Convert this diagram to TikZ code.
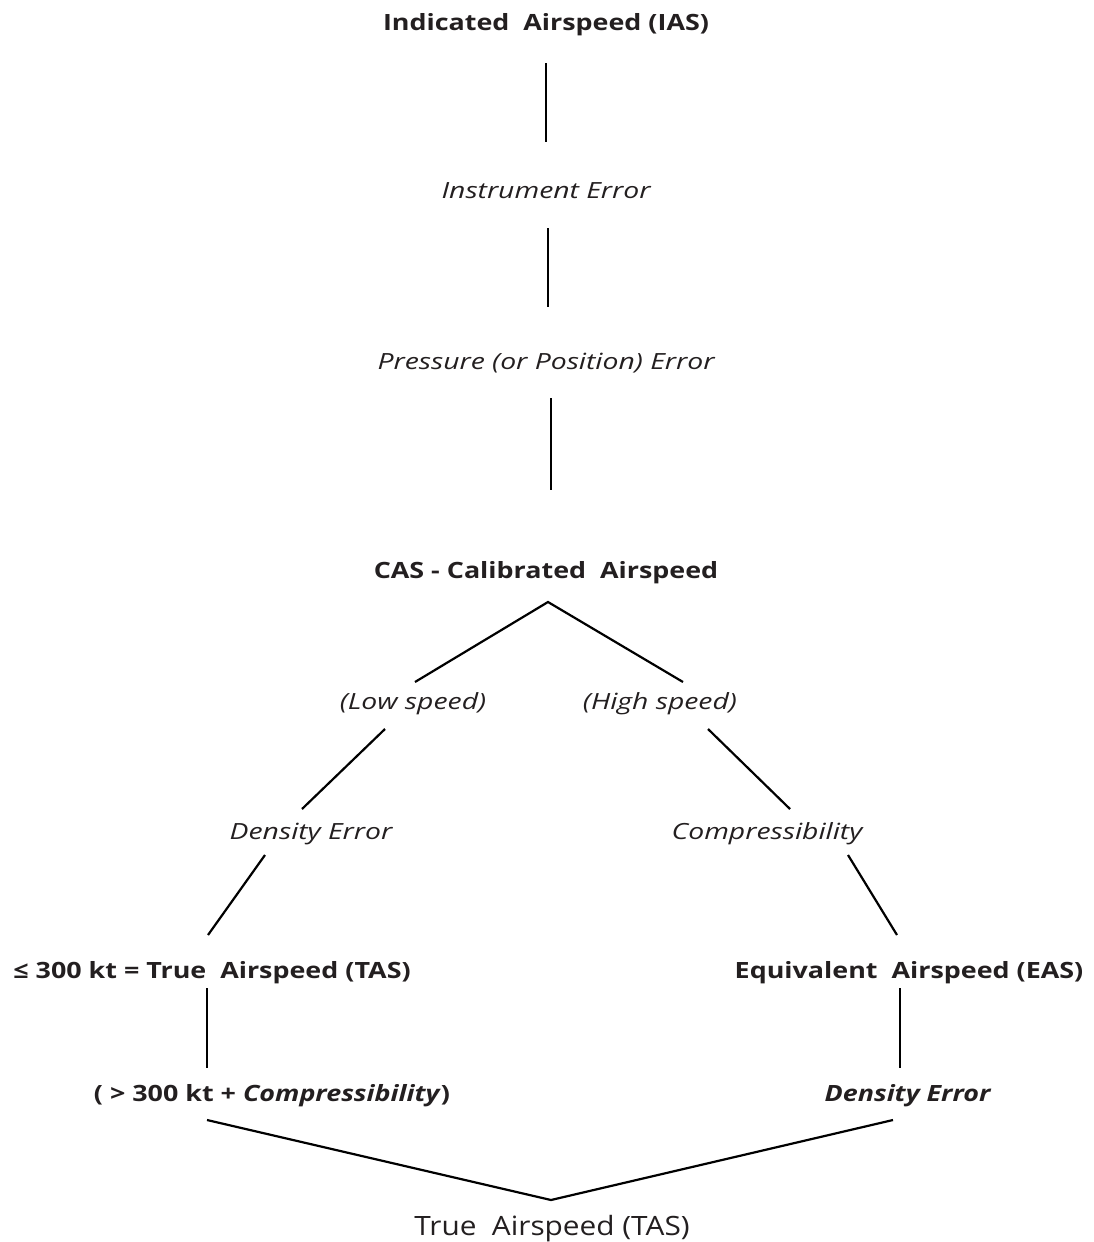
\documentclass[tikz,border=0pt]{standalone}
\usepackage{fontspec}
\setmainfont{Open Sans}
\newfontfamily\fB{Open Sans}[FakeStretch=1.2]
\newfontfamily\fI{Open Sans}[FakeStretch=1.27]
\newfontfamily\fR{Open Sans}[FakeStretch=1.12]
\definecolor{txtgray}{HTML}{231F20}
\begin{document}
\begin{tikzpicture}[x=1pt,y=-1pt,
  lbl/.style={inner sep=0pt, anchor=base, text=txtgray, font=\fR\fontsize{26.6}{30}\selectfont},
  bl/.style={lbl, font=\fB\fontsize{22.4}{26}\selectfont\bfseries},
  itl/.style={lbl, font=\fI\fontsize{22.3}{26}\selectfont\itshape},
  conn/.style={line width=2.2pt, draw=black, line cap=butt}]
\useasboundingbox (0,0) rectangle (1093,1242);

% nodes
\node[bl]  (ias)   at (546,30)   {Indicated\ \ Airspeed (IAS)};
\node[itl] (ierr)  at (546,198)  {Instrument Error};
\node[itl] (perr)  at (546,369)  {Pressure (or Position) Error};
\node[bl]  (cas)   at (546,578)  {CAS - Calibrated\ \ Airspeed};
\node[itl] (low)   at (413,709)  {(Low speed)};
\node[itl] (high)  at (660,709)  {(High speed)};
\node[itl] (dens)  at (311,839)  {Density Error};
\node[itl] (comp)  at (767,839)  {Compressibility};
\node[bl]  (tas1)  at (212,978)  {≤ 300 kt = True\ \ Airspeed (TAS)};
\node[bl]  (eas)   at (909,978)  {Equivalent\ \ Airspeed (EAS)};
\node[bl]  (gt)    at (272,1101) {( > 300 kt + \textit{Compressibility})};
\node[bl]  (dens2) at (908,1101) {\textit{Density Error}};
\node[lbl] (tas)   at (552,1235) {True\ \ Airspeed (TAS)};

% connector end points
\coordinate (a1) at (546,63);   \coordinate (a2) at (546,142);
\coordinate (b1) at (548,228);  \coordinate (b2) at (548,307);
\coordinate (c1) at (551,398);  \coordinate (c2) at (551,490);
\coordinate (apex) at (548,602);
\coordinate (d1) at (415,682);  \coordinate (d2) at (683,682);
\coordinate (e1) at (385,729);  \coordinate (e2) at (302,809);
\coordinate (f1) at (708,729);  \coordinate (f2) at (790,809);
\coordinate (g1) at (265,855);  \coordinate (g2) at (208,935);
\coordinate (h1) at (848,855);  \coordinate (h2) at (897,935);
\coordinate (i1) at (207,988);  \coordinate (i2) at (207,1068);
\coordinate (j1) at (900,988);  \coordinate (j2) at (900,1068);
\coordinate (k1) at (207,1120); \coordinate (k2) at (893,1120);
\coordinate (vtx) at (551,1200);

\draw[conn] (a1) -- (a2);
\draw[conn] (b1) -- (b2);
\draw[conn] (c1) -- (c2);
\draw[conn] (d1) -- (apex) -- (d2);
\draw[conn] (e1) -- (e2);
\draw[conn] (f1) -- (f2);
\draw[conn] (g1) -- (g2);
\draw[conn] (h1) -- (h2);
\draw[conn] (i1) -- (i2);
\draw[conn] (j1) -- (j2);
\draw[conn] (k1) -- (vtx) -- (k2);
\end{tikzpicture}
\end{document}
